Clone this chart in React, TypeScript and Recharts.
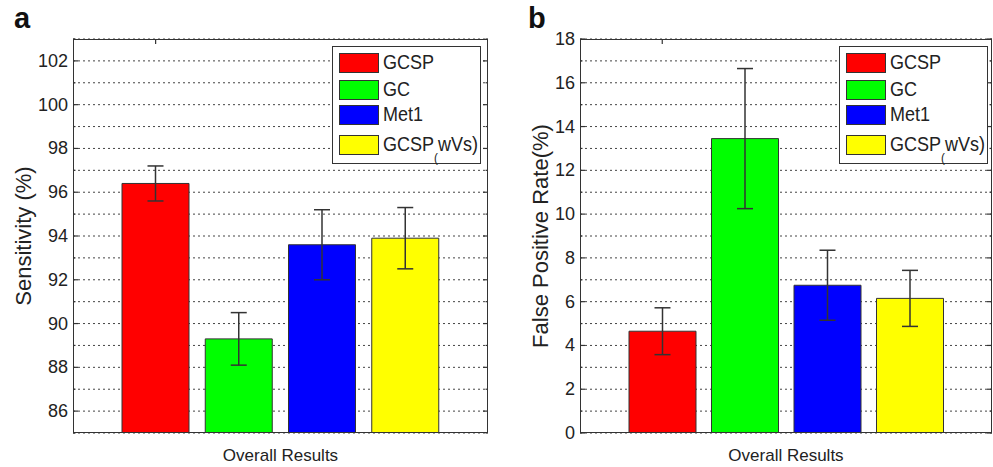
import { Bar, BarChart, CartesianGrid, Cell, ErrorBar, Label, XAxis, YAxis } from "recharts";

const categories = ["GCSP", "GC", "Met1", "GCSP(wVs)"];
const colors = ["#ff0000", "#00ff00", "#0000ff", "#ffff00"];

const sensitivity = [96.4, 89.3, 93.6, 93.9];
const sensitivityErr = [0.8, 1.2, 1.6, 1.4];
const sensLabels = [86, 88, 90, 92, 94, 96, 98, 100, 102];
const sensGrid = [85, 86, 87, 88, 89, 90, 91, 92, 93, 94, 95, 96, 97, 98, 99, 100, 101, 102, 103];

const fpr = [4.65, 13.45, 6.75, 6.15];
const fprErr = [1.07, 3.2, 1.6, 1.28];
const fprLabels = [0, 2, 4, 6, 8, 10, 12, 14, 16, 18];
const fprGrid = [0, 1, 2, 3, 4, 5, 6, 7, 8, 9, 10, 11, 12, 13, 14, 15, 16, 17, 18];

const FONT = "'Liberation Sans', Arial, Helvetica, sans-serif";
const INK = "#222";
const H = 467;
const TOP = 39;
const XH = 34;

function YTick(props: any) {
  const { x, y, payload, labels, plotW } = props;
  const v = payload.value;
  const major = labels.includes(v);
  const ax = x + 5;
  const len = major ? 5 : 2.5;
  return (
    <g>
      {major && (
        <text x={x} y={y} textAnchor="end" dominantBaseline="central" fontSize={18} fontFamily={FONT} fill={INK}>
          {v}
        </text>
      )}
      <line x1={ax} x2={ax + len} y1={y} y2={y} stroke="#333" strokeWidth={1.2} />
      <line x1={ax + plotW} x2={ax + plotW - len} y1={y} y2={y} stroke="#333" strokeWidth={1.2} />
    </g>
  );
}

function XTick(props: any) {
  const { x, index } = props;
  if (index !== 0) return <g />;
  return <line x1={x} x2={x} y1={TOP} y2={TOP + 5} stroke="#333" strokeWidth={1.2} />;
}

function LegendBox({ left }: { left: number }) {
  const rows = [6, 33, 58, 88];
  return (
    <div
      style={{
        position: "absolute",
        left,
        top: 46,
        width: 149,
        height: 118,
        border: "1.5px solid #333",
        boxSizing: "border-box",
        background: "#fff",
        fontFamily: FONT,
        color: INK,
      }}
    >
      {categories.map((c, i) => (
        <div key={c}>
          <div
            style={{
              position: "absolute",
              left: 6,
              top: rows[i],
              width: 40,
              height: 20,
              background: colors[i],
              border: "1px solid #333",
              boxSizing: "border-box",
            }}
          />
          <div
            style={{
              position: "absolute",
              left: 50,
              top: rows[i] - 3,
              fontSize: 20,
              lineHeight: "24px",
              whiteSpace: "nowrap",
              transform: "scaleX(0.9)",
              transformOrigin: "left center",
            }}
          >
            {c === "GCSP(wVs)" ? (
              <>
                GCSP
                <span style={{ fontSize: 13, position: "relative", top: 11 }}>(</span>
                wVs)
              </>
            ) : (
              c
            )}
          </div>
        </div>
      ))}
    </div>
  );
}

type PanelProps = {
  left: number;
  width: number;
  yw: number;
  right: number;
  values: number[];
  errs: number[];
  domain: [number, number];
  grid: number[];
  labels: number[];
  title: string;
  titleX: number;
  legendLeft: number;
  letter: string;
  letterX: number;
};

function Panel(p: PanelProps) {
  const plotW = p.width - p.yw - p.right;
  const data = categories.map((name, i) => ({ name, value: p.values[i], err: p.errs[i] }));
  return (
    <div style={{ position: "absolute", left: p.left, top: 0, width: p.width, height: H }}>
      <BarChart width={p.width} height={H} data={data} margin={{ top: TOP, right: p.right, bottom: 0, left: 0 }}>
        <CartesianGrid vertical={false} stroke="#444" strokeDasharray="2 3" strokeWidth={1} />
        <XAxis
          dataKey="name"
          height={XH}
          interval={0}
          axisLine={false}
          tickLine={false}
          tick={<XTick />}
          padding={{ left: 41, right: 41 }}
        >
          <Label value="Overall Results" position="insideBottom" offset={6} fontSize={17} fill={INK} fontFamily={FONT} />
        </XAxis>
        <YAxis
          width={p.yw}
          domain={p.domain}
          ticks={p.grid}
          interval={0}
          allowDataOverflow
          axisLine={false}
          tickLine={false}
          tickSize={0}
          tickMargin={5}
          tick={(t: any) => <YTick {...t} labels={p.labels} plotW={plotW} />}
        >
          <Label
            content={(lp: any) => {
              const vb = lp.viewBox || { x: 0, y: TOP, height: H - TOP - XH };
              const cx = vb.x + p.titleX;
              const cy = vb.y + vb.height / 2;
              return (
                <text
                  x={cx}
                  y={cy}
                  transform={`rotate(-90 ${cx} ${cy})`}
                  textAnchor="middle"
                  dominantBaseline="central"
                  fontSize={22}
                  fontFamily={FONT}
                  fill={INK}
                >
                  {p.title}
                </text>
              );
            }}
          />
        </YAxis>
        <Bar dataKey="value" barSize={67} stroke="#333" strokeWidth={1} isAnimationActive={false}>
          {data.map((d, i) => (
            <Cell key={d.name} fill={colors[i]} />
          ))}
          <ErrorBar dataKey="err" width={8} stroke="#333" strokeWidth={1.5} isAnimationActive={false} />
        </Bar>
      </BarChart>
      <div
        style={{
          position: "absolute",
          left: p.yw,
          top: TOP,
          width: plotW,
          height: H - TOP - XH,
          border: "1.5px solid #333",
          boxSizing: "border-box",
          pointerEvents: "none",
        }}
      />
      <LegendBox left={p.legendLeft} />
      <div
        style={{
          position: "absolute",
          left: p.letterX,
          top: 2,
          fontFamily: FONT,
          fontWeight: "bold",
          fontSize: 29,
          color: "#111",
        }}
      >
        {p.letter}
      </div>
    </div>
  );
}

export default function App() {
  return (
    <div style={{ position: "absolute", left: 0, top: 0, width: 993, height: H, background: "#fff", fontFamily: FONT }}>
      <Panel
        left={0}
        width={496}
        yw={73}
        right={8}
        values={sensitivity}
        errs={sensitivityErr}
        domain={[85, 103]}
        grid={sensGrid}
        labels={sensLabels}
        title="Sensitivity (%)"
        titleX={23}
        legendLeft={332}
        letter="a"
        letterX={14}
      />
      <Panel
        left={496}
        width={497}
        yw={84}
        right={1}
        values={fpr}
        errs={fprErr}
        domain={[0, 18]}
        grid={fprGrid}
        labels={fprLabels}
        title="False Positive Rate(%)"
        titleX={44}
        legendLeft={343}
        letter="b"
        letterX={32}
      />
    </div>
  );
}
